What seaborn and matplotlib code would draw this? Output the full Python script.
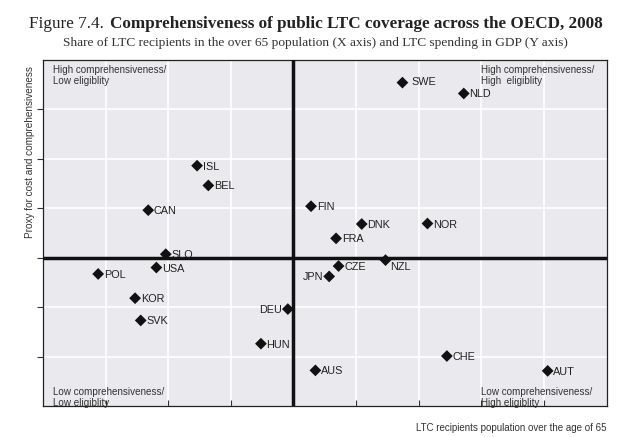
import matplotlib.pyplot as plt
import pandas as pd
import seaborn as sns

# ==============================================================================
# Data (x: recipients share, y: cost proxy, grid units)
# ==============================================================================
countries = ["SWE", "NLD", "ISL", "BEL", "CAN", "FIN", "DNK", "NOR", "FRA",
             "SLO", "USA", "POL", "CZE", "NZL", "JPN", "KOR", "SVK", "DEU",
             "HUN", "AUS", "CHE", "AUT"]
recipients = [5.74, 6.72, 2.46, 2.64, 1.68, 4.28, 5.09, 6.14, 4.68,
              1.96, 1.81, 0.88, 4.72, 5.47, 4.57, 1.47, 1.56, 3.91,
              3.48, 4.35, 6.45, 8.06]
cost_proxy = [6.54, 6.32, 4.86, 4.46, 3.96, 4.04, 3.68, 3.69, 3.39,
              3.07, 2.80, 2.67, 2.83, 2.95, 2.62, 2.18, 1.73, 1.96,
              1.26, 0.72, 1.01, 0.71]
# label side: right unless listed
left_labels = ["JPN", "DEU"]

quadrant_texts = ["High comprehensiveness/\nLow eligiblity",
                  "High comprehensiveness/\nHigh  eligiblity",
                  "Low comprehensiveness/\nLow eligiblity",
                  "Low comprehensiveness/\nHigh eligiblity"]

df = pd.DataFrame({"country": countries, "x": recipients, "y": cost_proxy})

# ==============================================================================
# Canvas
# ==============================================================================
sns.set_style("white")
sans = ["Liberation Sans", "DejaVu Sans"]
serif = ["Liberation Serif", "DejaVu Serif"]
plt.rcParams["font.family"] = sans

fig = plt.figure(figsize=(6.24, 4.37), dpi=100)
ax = fig.add_axes([0.069, 0.071, 0.903, 0.792])
ax.set_facecolor("#e9e9ee")

sns.scatterplot(data=df, x="x", y="y", marker="D", s=36, color="#111111",
                edgecolor="none", ax=ax, zorder=4)

ax.set_xlim(0, 9)
ax.set_ylim(0, 7)
ax.set_xticks(range(1, 9))
ax.set_yticks(range(1, 7))
ax.set_xticklabels([])
ax.set_yticklabels([])
ax.grid(True, color="white", linewidth=1.2)
ax.set_axisbelow(True)
ax.tick_params(axis="x", direction="in", length=4, width=0.8, color="#333333", bottom=True)
ax.tick_params(axis="y", direction="out", length=4, width=0.8, color="#333333", left=True)
for sp in ax.spines.values():
    sp.set_color("#222222")
    sp.set_linewidth(0.9)

# quadrant dividers
ax.axvline(4, color="#111111", linewidth=2.5, zorder=3)
ax.axhline(3, color="#111111", linewidth=2.5, zorder=3)

# point labels
lkw = dict(va="center", fontsize=7.8, color="#222222", zorder=5)
for c, x, y in zip(countries, recipients, cost_proxy):
    if c in left_labels:
        ax.text(x - 0.1, y - 0.02, c, ha="right", **lkw)
    elif c == "NZL":
        ax.text(x + 0.08, y - 0.13, c, ha="left", **lkw)
    elif c == "SWE":
        ax.text(x + 0.14, y + 0.01, c, ha="left", **lkw)
    else:
        ax.text(x + 0.09, y - 0.02, c, ha="left", **lkw)

# quadrant annotations
qkw = dict(fontsize=7.1, color="#333333", linespacing=1.1, zorder=5)
ax.text(0.16, 6.9, quadrant_texts[0], ha="left", va="top", **qkw)
ax.text(7.0, 6.9, quadrant_texts[1], ha="left", va="top", **qkw)
ax.text(0.16, -0.04, quadrant_texts[2], ha="left", va="bottom", **qkw)
ax.text(7.0, -0.04, quadrant_texts[3], ha="left", va="bottom", **qkw)

ax.set_xlabel("")
ax.set_ylabel("")
fig.text(0.972, 0.01, "LTC recipients population over the age of 65",
         ha="right", va="bottom", fontsize=7.0, color="#333333")
fig.text(0.048, 0.652, "Proxy for cost and comprehensiveness", rotation=90,
         ha="center", va="center", fontsize=7.2, color="#333333")

# titles
fig.text(0.046, 0.945, "Figure 7.4.", ha="left", va="center", fontsize=12.3,
         family=serif, color="#222222")
fig.text(0.177, 0.945, "Comprehensiveness of public LTC coverage across the OECD, 2008",
         ha="left", va="center", fontsize=12.3, family=serif, fontweight="bold",
         color="#222222")
fig.text(0.505, 0.902,
         "Share of LTC recipients in the over 65 population (X axis) and LTC spending in GDP (Y axis)",
         ha="center", va="center", fontsize=9.6, family=serif, color="#333333")

fig.savefig("out.png", dpi=100)
